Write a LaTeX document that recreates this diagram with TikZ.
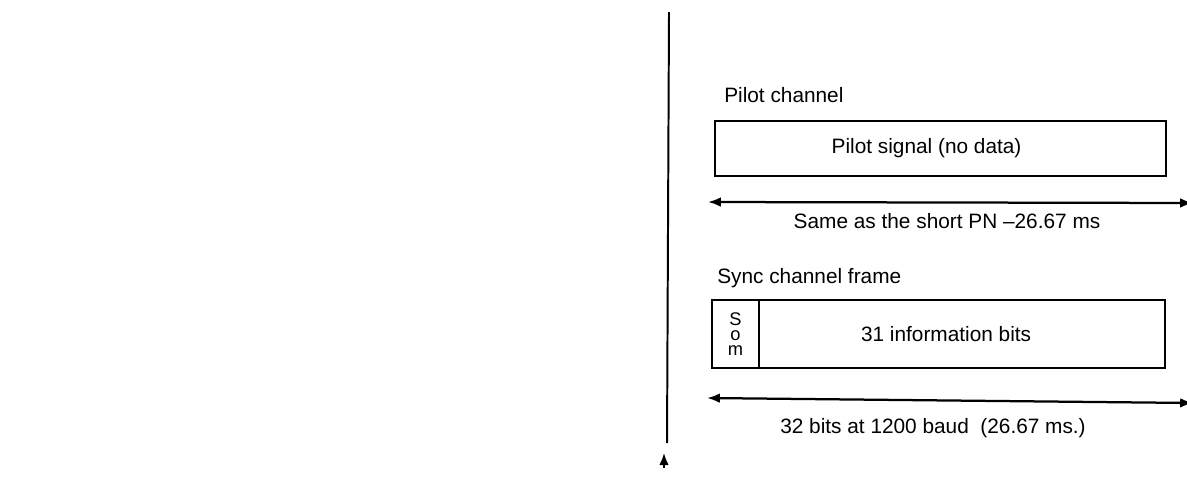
\documentclass[tikz,border=0pt]{standalone}
\usepackage{fontspec}
\setmainfont{Liberation Sans}
\usetikzlibrary{arrows.meta}

\tikzstyle{frame} = [draw, rectangle, line width=1.4pt, inner sep=0pt, outer sep=0pt, anchor=north west]
\tikzstyle{heading} = [anchor=west, inner sep=0pt]
\tikzstyle{span} = [{Latex[length=0.32cm,width=0.24cm]}-{Latex[length=0.32cm,width=0.24cm]}, line width=1.6pt]

\begin{document}
\begin{tikzpicture}[x=0.025cm,y=-0.025cm,font=\fontsize{14.8}{17}\selectfont,>=latex]
            \useasboundingbox (0,0) rectangle (1187,501);
            %
            % The time axis on the left
            \coordinate (axis top) at (669,12);
            \coordinate (axis bottom) at (667,443);
            \draw [line width=1.4pt] (axis top) -- (axis bottom);
            \coordinate (tick foot) at (664,468);
            \coordinate (tick head) at (664,453);
            \draw [-{Latex[length=0.3cm,width=0.24cm]}, line width=1.4pt] (tick foot) -- (tick head);
            %
            % Pilot channel: one long block
            \node [heading] (pilot title) at (724,95) {Pilot channel};
            \node [frame, minimum width=11.275cm, minimum height=1.375cm] (pilot) at (715,121) {Pilot signal (no data)\hspace*{0.7cm}};
            \coordinate (pilot left) at (708,202);
            \coordinate (pilot right) at (1193,203);
            \draw [span] (pilot left) -- (pilot right);
            \node (pilot span) at (947,221) {Same as the short PN --26.67 ms};
            %
            % Sync channel frame: start-of-message bit, then the data bits
            \node [heading] (sync title) at (717,278) {Sync channel frame};
            \node [frame, minimum width=1.175cm, minimum height=1.7cm, align=center, font=\fontsize{13}{10.8}\selectfont] (som) at (712,300) {S\\o\\m};
            \node [frame, minimum width=10.15cm, minimum height=1.7cm] (info) at (som.north east) {31 information bits\hspace*{0.8cm}};
            \coordinate (sync left) at (707,398);
            \coordinate (sync right) at (1193,403);
            \draw [span] (sync left) -- (sync right);
            \node (sync span) at (933,428) {32 bits at 1200 baud~~(26.67 ms.)};
            %
\end{tikzpicture}
\end{document}
